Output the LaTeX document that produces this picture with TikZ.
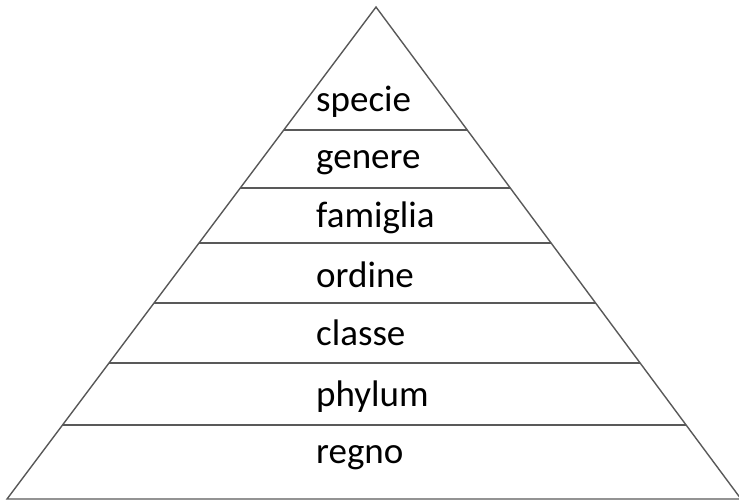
\documentclass[tikz,border=0pt]{standalone}
\usepackage{fontspec}
\setmainfont{Carlito}
\usetikzlibrary{calc}
\begin{document}
\begin{tikzpicture}[x=1pt,y=-1pt,
  edge/.style={draw=black!65, line width=1.4pt, line join=miter},
  sep/.style={draw=black!65, line width=1.4pt},
  lvl/.style={anchor=base west, inner sep=0pt, font=\fontsize{37}{40}\selectfont, text=black}]
\useasboundingbox (0,0) rectangle (739,501);
\coordinate (A) at (376,7);
\coordinate (BL) at (7,499);
\coordinate (BR) at (741,499);
\draw[edge] (BL) -- (A) -- (BR) -- cycle;
\foreach \yy [count=\i] in {130,188,243,303,363,425}{
  \coordinate (L\i) at ($(A)!{(\yy-7)/492}!(BL)$);
  \coordinate (R\i) at ($(A)!{(\yy-7)/492}!(BR)$);
  \draw[sep] (L\i) -- (R\i);
}
\node[lvl] (specie) at (316,111) {specie};
\node[lvl] (genere) at (316,168) {genere};
\node[lvl] (famiglia) at (316,227) {famiglia};
\node[lvl] (ordine) at (316,287) {ordine};
\node[lvl] (classe) at (316,345) {classe};
\node[lvl] (phylum) at (316,406) {phylum};
\node[lvl] (regno) at (316,463) {regno};
\end{tikzpicture}
\end{document}
